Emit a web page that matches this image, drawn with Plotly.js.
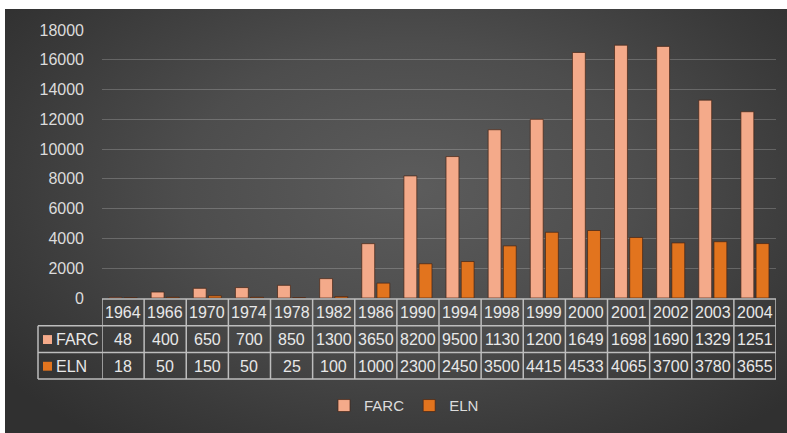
<!DOCTYPE html>
<html>
<head>
<meta charset="utf-8">
<script src="https://cdn.plot.ly/plotly-3.0.1.min.js"></script>
<style>
  html, body { margin: 0; padding: 0; background: #ffffff; }
  #bg { position: absolute; left: 5px; top: 9px; width: 782px; height: 424px;
        background: radial-gradient(ellipse 65% 75% at 52% 42%, #5c5c5c 0%, #4d4d4d 45%, #3a3a3a 80%, #303030 100%); }
  #chart { position: absolute; left: 0; top: 0; width: 787px; height: 433px; }
</style>
</head>
<body>
<div id="bg"></div>
<div id="chart"></div>
<script>
const years = ['1964','1966','1970','1974','1978','1982','1986','1990','1994','1998','1999','2000','2001','2002','2003','2004'];
const farc = [48,400,650,700,850,1300,3650,8200,9500,11300,12000,16490,16980,16900,13290,12510];
const eln = [18,50,150,50,25,100,1000,2300,2450,3500,4415,4533,4065,3700,3780,3655];
const farcTable = ['48','400','650','700','850','1300','3650','8200','9500','1130','1200','1649','1698','1690','1329','1251'];
const elnTable = ['18','50','150','50','25','100','1000','2300','2450','3500','4415','4533','4065','3700','3780','3655'];
const seriesNames = ['FARC','ELN'];
const colFarc = '#f4aa8a';
const colEln = '#e2741e';

const FONT = 'Liberation Sans, Arial, sans-serif';
const txtCol = '#e8e8e8';
const lineCol = '#bdbdbd';

// plot area: x 102..776 px, y 30..301 px
const plotH = 271, plotBottom = 301, plotLeft = 102, plotW = 674;
const py = p => (plotBottom - p) / plotH;
const px = p => (p - plotLeft) / plotW;

const rowLines = [302, 329, 356, 383];
const rowMid = [316, 343, 370];

const shapes = [];
shapes.push({type:'line', xref:'paper', yref:'paper', x0:0, x1:1, y0:py(rowLines[0]), y1:py(rowLines[0]), line:{color:lineCol, width:1.5}});
for (let k = 1; k < rowLines.length; k++) {
  shapes.push({type:'line', xref:'paper', yref:'paper', x0:px(38), x1:1, y0:py(rowLines[k]), y1:py(rowLines[k]), line:{color:lineCol, width:1.5}});
}
for (let i = 0; i <= years.length; i++) {
  shapes.push({type:'line', xref:'x', yref:'paper', x0:i-0.5, x1:i-0.5, y0:py(rowLines[0]), y1:py(rowLines[3]), line:{color:lineCol, width:1.5}});
}
shapes.push({type:'line', xref:'paper', yref:'paper', x0:px(38), x1:px(38), y0:py(rowLines[1]), y1:py(rowLines[3]), line:{color:lineCol, width:1.5}});

const cellFont = {family:FONT, size:16, color:txtCol};
const annotations = [];
years.forEach((y, i) => {
  annotations.push({xref:'x', yref:'paper', x:i, y:py(rowMid[0]), xanchor:'center', yanchor:'middle', text:y, showarrow:false, font:cellFont});
  annotations.push({xref:'x', yref:'paper', x:i, y:py(rowMid[1]), xanchor:'center', yanchor:'middle', text:farcTable[i], showarrow:false, font:cellFont});
  annotations.push({xref:'x', yref:'paper', x:i, y:py(rowMid[2]), xanchor:'center', yanchor:'middle', text:elnTable[i], showarrow:false, font:cellFont});
});
[[seriesNames[0], colFarc, rowMid[1]], [seriesNames[1], colEln, rowMid[2]]].forEach(([name, c, m]) => {
  shapes.push({type:'rect', xref:'paper', yref:'paper', x0:px(43), x1:px(52), y0:py(m+4.5), y1:py(m-4.5), fillcolor:c, line:{width:0}});
  annotations.push({xref:'paper', yref:'paper', x:px(54), xanchor:'left', y:py(m), yanchor:'middle', text:name, showarrow:false, font:cellFont});
});

const traces = [
  {type:'bar', name:seriesNames[0], x:years, y:farc, marker:{color:colFarc, line:{color:'rgba(70,35,20,0.7)', width:1}}, hoverinfo:'x+y'},
  {type:'bar', name:seriesNames[1], x:years, y:eln, marker:{color:colEln, line:{color:'rgba(70,35,20,0.7)', width:1}}, hoverinfo:'x+y'}
];

const layout = {
  width: 787, height: 433,
  margin: {l: plotLeft, r: 787 - 776, t: 30, b: 433 - plotBottom, pad: 0},
  paper_bgcolor: 'rgba(0,0,0,0)',
  plot_bgcolor: 'rgba(0,0,0,0)',
  barmode: 'group',
  bargap: 0.28,
  bargroupgap: 0.15,
  font: {family: FONT, color: txtCol},
  xaxis: {type:'category', range:[-0.5, years.length - 0.5], showticklabels:false, showgrid:false, zeroline:false, showline:false, ticks:''},
  yaxis: {range:[0, 18000], dtick:2000, tick0:0, tickformat:'d', showgrid:true, gridcolor:'rgba(255,255,255,0.2)', gridwidth:1, zeroline:false, showline:false,
          ticks:'', ticklabelstandoff:17, tickfont:{family:FONT, size:16, color:'#dcdcdc'}},
  showlegend: true,
  legend: {orientation:'h', x:px(404), xanchor:'center', y:py(410), yanchor:'middle', itemwidth:30, font:{family:FONT, size:15, color:'#dcdcdc'}, bgcolor:'rgba(0,0,0,0)', itemclick:false},
  shapes: shapes,
  annotations: annotations
};

Plotly.newPlot('chart', traces, layout, {displayModeBar:false, staticPlot:true});
</script>
</body>
</html>
